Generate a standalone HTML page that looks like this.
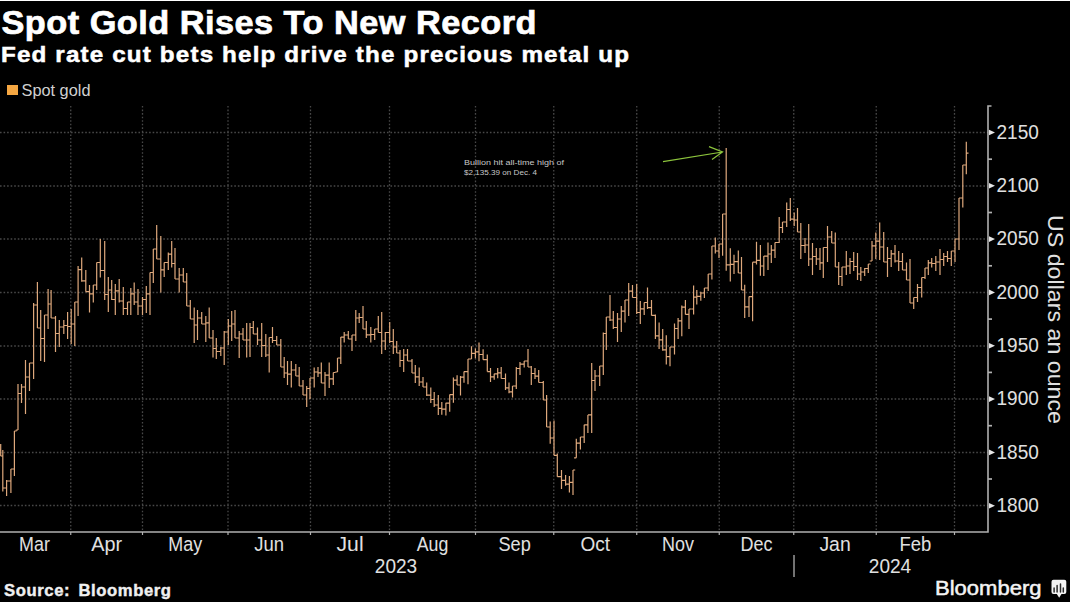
<!DOCTYPE html>
<html><head><meta charset="utf-8"><style>
html,body{margin:0;padding:0;background:#fff;}
svg{display:block;font-family:'Liberation Sans', sans-serif;}
</style></head><body>
<svg width="1080" height="606" viewBox="0 0 1080 606">
<rect x="0" y="1" width="1070" height="601" fill="#000"/>
<line x1="0" y1="505.5" x2="988" y2="505.5" stroke="#484848" stroke-width="1.3" stroke-dasharray="1.6 1.95"/>
<line x1="0" y1="452.5" x2="988" y2="452.5" stroke="#484848" stroke-width="1.3" stroke-dasharray="1.6 1.95"/>
<line x1="0" y1="399.0" x2="988" y2="399.0" stroke="#484848" stroke-width="1.3" stroke-dasharray="1.6 1.95"/>
<line x1="0" y1="346.0" x2="988" y2="346.0" stroke="#484848" stroke-width="1.3" stroke-dasharray="1.6 1.95"/>
<line x1="0" y1="292.5" x2="988" y2="292.5" stroke="#484848" stroke-width="1.3" stroke-dasharray="1.6 1.95"/>
<line x1="0" y1="239.0" x2="988" y2="239.0" stroke="#484848" stroke-width="1.3" stroke-dasharray="1.6 1.95"/>
<line x1="0" y1="186.0" x2="988" y2="186.0" stroke="#484848" stroke-width="1.3" stroke-dasharray="1.6 1.95"/>
<line x1="0" y1="132.5" x2="988" y2="132.5" stroke="#484848" stroke-width="1.3" stroke-dasharray="1.6 1.95"/>
<line x1="70.75" y1="106" x2="70.75" y2="532" stroke="#484848" stroke-width="1.3" stroke-dasharray="1.6 1.95"/>
<line x1="142.5" y1="106" x2="142.5" y2="532" stroke="#484848" stroke-width="1.3" stroke-dasharray="1.6 1.95"/>
<line x1="228" y1="106" x2="228" y2="532" stroke="#484848" stroke-width="1.3" stroke-dasharray="1.6 1.95"/>
<line x1="310.5" y1="106" x2="310.5" y2="532" stroke="#484848" stroke-width="1.3" stroke-dasharray="1.6 1.95"/>
<line x1="389.5" y1="106" x2="389.5" y2="532" stroke="#484848" stroke-width="1.3" stroke-dasharray="1.6 1.95"/>
<line x1="475.5" y1="106" x2="475.5" y2="532" stroke="#484848" stroke-width="1.3" stroke-dasharray="1.6 1.95"/>
<line x1="553.75" y1="106" x2="553.75" y2="532" stroke="#484848" stroke-width="1.3" stroke-dasharray="1.6 1.95"/>
<line x1="636.75" y1="106" x2="636.75" y2="532" stroke="#484848" stroke-width="1.3" stroke-dasharray="1.6 1.95"/>
<line x1="719.25" y1="106" x2="719.25" y2="532" stroke="#484848" stroke-width="1.3" stroke-dasharray="1.6 1.95"/>
<line x1="793.75" y1="106" x2="793.75" y2="532" stroke="#484848" stroke-width="1.3" stroke-dasharray="1.6 1.95"/>
<line x1="876.25" y1="106" x2="876.25" y2="532" stroke="#484848" stroke-width="1.3" stroke-dasharray="1.6 1.95"/>
<line x1="954.5" y1="106" x2="954.5" y2="532" stroke="#484848" stroke-width="1.3" stroke-dasharray="1.6 1.95"/>
<path d="M0.7 444.0V456.0M-1.5 450.0H0.7M0.7 456.0H2.9M2.8 450.0V491.5M0.6 456.0H2.8M2.8 488.0H5.0M6.6 480.0V496.0M4.4 488.0H6.6M6.6 481.0H8.8M10.9 469.0V493.0M8.7 481.0H10.9M10.9 469.0H13.1M14.4 431.0V476.0M12.2 469.0H14.4M14.4 431.0H16.6M18.0 384.0V430.0M15.8 430.0H18.0M18.0 393.5H20.2M21.5 384.0V403.0M19.3 393.5H21.5M21.5 387.0H23.7M25.5 360.0V414.0M23.3 387.0H25.5M25.5 377.0H27.7M29.5 363.0V391.0M27.3 377.0H29.5M29.5 363.0H31.7M33.6 303.0V379.0M31.4 363.0H33.6M33.6 305.0H35.8M37.4 282.0V328.0M35.2 305.0H37.4M37.4 328.0H39.6M40.7 310.0V361.0M38.5 328.0H40.7M40.7 338.5H42.9M44.5 315.0V362.0M42.3 338.5H44.5M44.5 315.0H46.7M48.1 289.0V329.0M45.9 315.0H48.1M48.1 304.0H50.3M51.1 290.0V318.0M48.9 304.0H51.1M51.1 318.0H53.3M55.5 316.0V352.0M53.3 318.0H55.5M55.5 333.5H57.7M59.3 320.0V347.0M57.1 333.5H59.3M59.3 327.0H61.5M63.8 320.0V334.0M61.6 327.0H63.8M63.8 325.5H66.0M67.6 312.0V339.0M65.4 325.5H67.6M67.6 326.5H69.8M71.2 309.0V344.0M69.0 326.5H71.2M71.2 324.0H73.4M74.8 302.0V346.0M72.6 324.0H74.8M74.8 302.0H77.0M78.1 266.0V316.0M75.9 302.0H78.1M78.1 269.6H80.3M81.7 257.5V281.7M79.5 269.6H81.7M81.7 280.9H83.9M85.8 270.0V291.7M83.6 280.9H85.8M85.8 291.7H88.0M89.5 285.0V312.5M87.3 291.7H89.5M89.5 293.8H91.7M93.3 285.0V302.5M91.1 293.8H93.3M93.3 285.0H95.5M96.7 262.5V290.0M94.5 285.0H96.7M96.7 262.5H98.9M100.3 239.0V277.5M98.1 262.5H100.3M100.3 270.5H102.5M104.7 241.0V300.0M102.5 270.5H104.7M104.7 294.5H106.9M108.3 277.0V312.0M106.1 294.5H108.3M108.3 290.0H110.5M111.7 280.0V300.0M109.5 290.0H111.7M111.7 299.5H113.9M115.3 284.0V315.0M113.1 299.5H115.3M115.3 290.8H117.5M119.2 279.0V302.5M117.0 290.8H119.2M119.2 301.0H121.4M123.3 287.0V315.0M121.1 301.0H123.3M123.3 308.5H125.5M127.5 302.0V315.0M125.3 308.5H127.5M127.5 302.0H129.7M130.8 288.0V315.0M128.6 302.0H130.8M130.8 293.8H133.0M134.2 282.5V305.0M132.0 293.8H134.2M134.2 302.0H136.4M138.0 289.0V315.0M135.8 302.0H138.0M138.0 306.0H140.2M142.5 297.0V315.0M140.3 306.0H142.5M142.5 299.5H144.7M146.3 286.0V313.0M144.1 299.5H146.3M146.3 293.8H148.5M150.0 272.5V315.0M147.8 293.8H150.0M150.0 272.5H152.2M153.3 249.0V283.0M151.1 272.5H153.3M153.3 249.0H155.5M156.7 225.0V259.0M154.5 249.0H156.7M156.7 259.0H158.9M160.8 236.0V292.5M158.6 259.0H160.8M160.8 269.8H163.0M164.2 262.5V277.0M162.0 269.8H164.2M164.2 262.5H166.4M168.3 252.5V270.0M166.1 262.5H168.3M168.3 254.2H170.5M171.7 241.0V267.5M169.5 254.2H171.7M171.7 263.5H173.9M175.0 248.0V279.0M172.8 263.5H175.0M175.0 279.0H177.2M179.2 268.0V292.5M177.0 279.0H179.2M179.2 275.0H181.4M183.3 268.0V282.0M181.1 275.0H183.3M183.3 282.0H185.5M186.7 273.0V306.0M184.5 282.0H186.7M186.7 306.0H188.9M190.3 300.0V319.0M188.1 306.0H190.3M190.3 319.0H192.5M194.2 307.5V343.0M192.0 319.0H194.2M194.2 325.0H196.4M197.5 310.0V340.0M195.3 325.0H197.5M197.5 318.0H199.7M201.7 312.0V324.0M199.5 318.0H201.7M201.7 324.0H203.9M205.8 316.0V342.0M203.6 324.0H205.8M205.8 322.8H208.0M209.2 307.5V338.0M207.0 322.8H209.2M209.2 338.0H211.4M213.0 330.0V357.5M210.8 338.0H213.0M213.0 348.5H215.2M216.3 338.0V359.0M214.1 348.5H216.3M216.3 351.5H218.5M220.8 347.0V356.0M218.6 351.5H220.8M220.8 348.0H223.0M224.2 331.0V365.0M222.0 348.0H224.2M224.2 332.0H226.4M228.3 319.0V345.0M226.1 332.0H228.3M228.3 326.0H230.5M231.7 311.0V341.0M229.5 326.0H231.7M231.7 324.0H233.9M235.0 310.0V338.0M232.8 324.0H235.0M235.0 338.0H237.2M239.2 331.0V358.0M237.0 338.0H239.2M239.2 334.0H241.4M243.0 328.0V340.0M240.8 334.0H243.0M243.0 340.0H245.2M246.7 323.0V357.5M244.5 340.0H246.7M246.7 340.0H248.9M250.0 323.0V357.0M247.8 340.0H250.0M250.0 327.5H252.2M253.3 321.0V334.0M251.1 327.5H253.3M253.3 334.0H255.5M257.5 327.5V345.0M255.3 334.0H257.5M257.5 340.0H259.7M261.7 323.0V357.0M259.5 340.0H261.7M261.7 345.5H263.9M265.8 334.0V357.0M263.6 345.5H265.8M265.8 355.0H268.0M269.2 337.5V372.5M267.0 355.0H269.2M269.2 337.5H271.4M272.5 327.0V343.0M270.3 337.5H272.5M272.5 340.5H274.7M276.7 336.0V345.0M274.5 340.5H276.7M276.7 345.0H278.9M280.8 339.0V367.0M278.6 345.0H280.8M280.8 367.0H283.0M284.2 357.0V378.0M282.0 367.0H284.2M284.2 373.0H286.4M287.5 361.0V385.0M285.3 373.0H287.5M287.5 374.2H289.7M291.3 361.0V387.5M289.1 374.2H291.3M291.3 370.0H293.5M295.8 364.0V376.0M293.6 370.0H295.8M295.8 376.0H298.0M299.2 367.0V386.0M297.0 376.0H299.2M299.2 386.0H301.4M303.0 380.0V395.0M300.8 386.0H303.0M303.0 395.0H305.2M306.7 386.0V407.0M304.5 395.0H306.7M306.7 388.5H308.9M310.0 378.0V399.0M307.8 388.5H310.0M310.0 378.0H312.2M314.2 367.5V387.5M312.0 378.0H314.2M314.2 372.0H316.4M318.0 367.0V377.0M315.8 372.0H318.0M318.0 372.8H320.2M321.3 362.5V383.0M319.1 372.8H321.3M321.3 383.0H323.5M325.0 372.0V396.0M322.8 383.0H325.0M325.0 375.2H327.2M329.2 362.5V388.0M327.0 375.2H329.2M329.2 378.8H331.4M333.3 372.5V385.0M331.1 378.8H333.3M333.3 372.5H335.5M337.5 358.0V372.0M335.3 372.0H337.5M337.5 358.0H339.7M340.8 337.0V364.0M338.6 358.0H340.8M340.8 337.2H343.0M344.2 332.0V342.5M342.0 337.2H344.2M344.2 335.0H346.4M348.3 331.0V339.0M346.1 335.0H348.3M348.3 339.0H350.5M352.0 335.0V351.0M349.8 339.0H352.0M352.0 335.0H354.2M355.8 310.0V341.0M353.6 335.0H355.8M355.8 318.0H358.0M359.2 313.0V323.0M357.0 318.0H359.2M359.2 317.5H361.4M363.0 306.0V329.0M360.8 317.5H363.0M363.0 329.0H365.2M366.3 321.0V338.0M364.1 329.0H366.3M366.3 334.8H368.5M370.8 327.0V342.5M368.6 334.8H370.8M370.8 334.5H373.0M374.7 329.0V340.0M372.5 334.5H374.7M374.7 329.0H376.9M378.3 316.0V332.5M376.1 329.0H378.3M378.3 332.5H380.5M381.7 312.0V354.0M379.5 332.5H381.7M381.7 341.0H383.9M385.3 332.0V350.0M383.1 341.0H385.3M385.3 332.5H387.5M389.7 322.0V343.0M387.5 332.5H389.7M389.7 341.5H391.9M393.3 329.0V354.0M391.1 341.5H393.3M393.3 347.0H395.5M396.7 341.0V353.0M394.5 347.0H396.7M396.7 353.0H398.9M400.0 350.0V367.0M397.8 353.0H400.0M400.0 360.5H402.2M403.7 349.0V372.0M401.5 360.5H403.7M403.7 355.0H405.9M407.5 349.0V361.0M405.3 355.0H407.5M407.5 361.0H409.7M412.0 359.0V373.0M409.8 361.0H412.0M412.0 373.0H414.2M415.3 365.0V383.0M413.1 373.0H415.3M415.3 376.8H417.5M419.2 367.5V386.0M417.0 376.8H419.2M419.2 382.0H421.4M423.0 377.0V387.0M420.8 382.0H423.0M423.0 387.0H425.2M426.7 382.5V396.0M424.5 387.0H426.7M426.7 395.2H428.9M430.8 387.5V403.0M428.6 395.2H430.8M430.8 399.5H433.0M434.2 392.0V407.0M432.0 399.5H434.2M434.2 405.0H436.4M438.3 395.0V415.0M436.1 405.0H438.3M438.3 408.4H440.5M441.8 402.0V414.7M439.6 408.4H441.8M441.8 409.1H444.0M445.9 402.8V415.4M443.7 409.1H445.9M445.9 403.1H448.1M449.7 394.6V411.7M447.5 403.1H449.7M449.7 394.6H451.9M453.4 377.5V402.8M451.2 394.6H453.4M453.4 380.1H455.6M457.1 375.3V385.0M454.9 380.1H457.1M457.1 385.0H459.3M460.5 376.0V395.4M458.3 385.0H460.5M460.5 377.1H462.7M464.0 371.6V382.7M461.8 377.1H464.0M464.0 371.6H466.2M468.0 359.0V384.2M465.8 371.6H468.0M468.0 359.0H470.2M471.5 346.3V359.0M469.3 359.0H471.5M471.5 353.4H473.7M475.4 348.6V358.2M473.2 353.4H475.4M475.4 351.9H477.6M479.0 342.6V361.2M476.8 351.9H479.0M479.0 354.5H481.2M483.1 349.3V359.7M480.9 354.5H483.1M483.1 359.7H485.3M487.3 354.5V371.6M485.1 359.7H487.3M487.3 371.6H489.5M490.5 368.0V382.0M488.3 371.6H490.5M490.5 376.8H492.7M494.2 373.8V379.8M492.0 376.8H494.2M494.2 373.8H496.4M497.7 368.0V378.3M495.5 373.8H497.7M497.7 372.8H499.9M501.2 367.0V378.5M499.0 372.8H501.2M501.2 378.5H503.4M505.5 373.5V390.0M503.3 378.5H505.5M505.5 387.9H507.7M509.0 382.5V393.3M506.8 387.9H509.0M509.0 391.8H511.2M512.5 386.0V397.5M510.3 391.8H512.5M512.5 386.0H514.7M516.3 367.0V389.0M514.1 386.0H516.3M516.3 368.5H518.5M520.0 362.0V375.0M517.8 368.5H520.0M520.0 364.2H522.2M524.2 361.0V367.5M522.0 364.2H524.2M524.2 361.0H526.4M528.0 349.0V367.0M525.8 361.0H528.0M528.0 367.0H530.2M531.3 366.0V385.0M529.1 367.0H531.3M531.3 373.5H533.5M535.0 368.0V379.0M532.8 373.5H535.0M535.0 376.2H537.2M538.7 370.0V382.5M536.5 376.2H538.7M538.7 382.5H540.9M543.3 381.0V400.0M541.1 382.5H543.3M543.3 400.0H545.5M546.6 395.0V427.0M544.4 400.0H546.6M546.6 427.0H548.8M550.2 421.5V443.7M548.0 427.0H550.2M550.2 438.0H552.4M554.0 420.6V455.3M551.8 438.0H554.0M554.0 455.3H556.2M557.3 453.6V476.7M555.1 455.3H557.3M557.3 476.7H559.5M561.5 470.0V489.0M559.3 476.7H561.5M561.5 480.4H563.7M565.6 475.0V485.8M563.4 480.4H565.6M565.6 484.2H567.8M569.4 476.0V492.4M567.2 484.2H569.4M569.4 482.4H571.6M573.0 470.0V494.9M570.8 482.4H573.0M573.0 470.0H575.2M576.3 438.8V457.8M574.1 457.8H576.3M576.3 443.2H578.5M580.4 437.0V449.5M578.2 443.2H580.4M580.4 437.0H582.6M584.2 424.8V443.0M582.0 437.0H584.2M584.2 424.8H586.4M587.9 414.9V433.0M585.7 424.8H587.9M587.9 414.9H590.1M591.7 363.0V433.0M589.5 414.9H591.7M591.7 380.5H593.9M595.0 370.0V391.0M592.8 380.5H595.0M595.0 376.0H597.2M599.7 366.0V386.0M597.5 376.0H599.7M599.7 366.0H601.9M603.3 332.5V375.0M601.1 366.0H603.3M603.3 333.5H605.5M606.3 317.0V350.0M604.1 333.5H606.3M606.3 317.0H608.5M610.0 295.0V321.0M607.8 317.0H610.0M610.0 320.0H612.2M613.3 311.0V329.0M611.1 320.0H613.3M613.3 327.5H615.5M617.5 313.0V342.0M615.3 327.5H617.5M617.5 319.0H619.7M621.3 306.0V332.0M619.1 319.0H621.3M621.3 311.2H623.5M625.0 300.0V322.5M622.8 311.2H625.0M625.0 300.0H627.2M628.7 283.0V316.0M626.5 300.0H628.7M628.7 291.2H630.9M632.5 285.0V297.5M630.3 291.2H632.5M632.5 297.5H634.7M636.7 284.0V314.0M634.5 297.5H636.7M636.7 312.5H638.9M640.3 301.0V324.0M638.1 312.5H640.3M640.3 308.8H642.5M644.2 302.5V315.0M642.0 308.8H644.2M644.2 302.5H646.4M647.5 287.5V309.0M645.3 302.5H647.5M647.5 307.7H649.7M651.5 300.0V315.4M649.3 307.7H651.5M651.5 315.4H653.7M655.4 314.4V339.0M653.2 315.4H655.4M655.4 335.8H657.6M659.1 322.6V349.0M656.9 335.8H659.1M659.1 339.9H661.3M662.7 329.0V350.7M660.5 339.9H662.7M662.7 349.9H664.9M666.3 335.3V364.4M664.1 349.9H666.3M666.3 356.6H668.5M670.0 347.0V366.2M667.8 356.6H670.0M670.0 347.0H672.2M674.5 323.5V354.4M672.3 347.0H674.5M674.5 328.5H676.7M678.1 318.0V339.0M675.9 328.5H678.1M678.1 320.8H680.3M681.8 305.4V336.2M679.6 320.8H681.8M681.8 307.2H684.0M685.4 300.0V314.4M683.2 307.2H685.4M685.4 314.4H687.6M689.0 309.0V329.0M686.8 314.4H689.0M689.0 309.0H691.2M693.6 285.4V314.4M691.4 309.0H693.6M693.6 297.2H695.8M696.8 290.0V304.5M694.6 297.2H696.8M696.8 296.3H699.0M700.8 291.8V300.8M698.6 296.3H700.8M700.8 293.0H703.0M704.4 288.0V298.0M702.2 293.0H704.4M704.4 288.0H706.6M708.2 274.0V291.0M706.0 288.0H708.2M708.2 274.0H710.4M711.9 246.0V279.4M709.7 274.0H711.9M711.9 246.0H714.1M715.3 237.6V253.6M713.1 246.0H715.3M715.3 251.0H717.5M719.0 244.0V258.0M716.8 251.0H719.0M719.0 244.0H721.2M722.6 214.0V255.8M720.4 244.0H722.6M722.6 214.0H724.8M726.2 148.0V270.8M724.0 214.0H726.2M726.2 264.9H728.4M730.3 248.3V281.5M728.1 264.9H730.3M730.3 264.4H732.5M734.0 254.7V274.0M731.8 264.4H734.0M734.0 261.7H736.2M738.3 250.4V273.0M736.1 261.7H738.3M738.3 273.0H740.5M741.5 256.9V290.0M739.3 273.0H741.5M741.5 290.0H743.7M744.7 284.8V318.0M742.5 290.0H744.7M744.7 306.8H746.9M749.0 296.6V317.0M746.8 306.8H749.0M749.0 296.6H751.2M752.6 262.2V321.2M750.4 296.6H752.6M752.6 262.2H754.8M756.5 241.8V264.4M754.3 262.2H756.5M756.5 260.4H758.7M760.4 245.0V275.8M758.2 260.4H760.4M760.4 266.0H762.6M763.8 256.0V276.0M761.6 266.0H763.8M763.8 256.2H766.0M768.0 242.5V270.0M765.8 256.2H768.0M768.0 254.0H770.2M771.3 245.0V263.0M769.1 254.0H771.3M771.3 250.2H773.5M775.0 242.5V258.0M772.8 250.2H775.0M775.0 242.5H777.2M779.2 217.0V243.0M777.0 242.5H779.2M779.2 227.5H781.4M782.5 222.0V233.0M780.3 227.5H782.5M782.5 222.0H784.7M786.7 202.5V227.0M784.5 222.0H786.7M786.7 209.5H788.9M790.3 198.0V221.0M788.1 209.5H790.3M790.3 219.2H792.5M794.2 212.5V226.0M792.0 219.2H794.2M794.2 220.0H796.4M797.5 208.0V232.0M795.3 220.0H797.5M797.5 232.0H799.7M800.8 223.0V259.0M798.6 232.0H800.8M800.8 245.5H803.0M805.0 238.0V253.0M802.8 245.5H805.0M805.0 245.0H807.2M808.7 224.0V266.0M806.5 245.0H808.7M808.7 259.0H810.9M812.5 243.0V275.0M810.3 259.0H812.5M812.5 256.5H814.7M816.3 248.0V265.0M814.1 256.5H816.3M816.3 259.0H818.5M820.0 248.0V270.0M817.8 259.0H820.0M820.0 262.8H822.2M823.3 247.5V278.0M821.1 262.8H823.3M823.3 247.5H825.5M827.5 226.0V262.0M825.3 247.5H827.5M827.5 237.0H829.7M831.7 231.0V243.0M829.5 237.0H831.7M831.7 243.0H833.9M835.3 232.5V267.0M833.1 243.0H835.3M835.3 267.0H837.5M838.7 262.0V285.0M836.5 267.0H838.7M838.7 276.5H840.9M842.0 267.0V286.0M839.8 276.5H842.0M842.0 267.0H844.2M846.3 251.0V275.0M844.1 267.0H846.3M846.3 266.0H848.5M850.0 258.0V274.0M847.8 266.0H850.0M850.0 261.5H852.2M853.7 252.0V271.0M851.5 261.5H853.7M853.7 266.5H855.9M857.5 253.0V280.0M855.3 266.5H857.5M857.5 274.0H859.7M860.8 267.0V281.0M858.6 274.0H860.8M860.8 272.0H863.0M864.7 268.0V276.0M862.5 272.0H864.7M864.7 268.5H866.9M868.3 264.0V273.0M866.1 268.5H868.3M868.3 264.0H870.5M872.0 241.0V261.0M869.8 261.0H872.0M872.0 245.8H874.2M875.8 232.5V259.0M873.6 245.8H875.8M875.8 241.2H878.0M879.7 222.5V260.0M877.5 241.2H879.7M879.7 247.0H881.9M883.7 232.0V262.0M881.5 247.0H883.7M883.7 262.0H885.9M887.5 247.0V277.0M885.3 262.0H887.5M887.5 258.5H889.7M891.2 250.0V267.0M889.0 258.5H891.2M891.2 253.8H893.4M895.0 245.0V262.5M892.8 253.8H895.0M895.0 261.0H897.2M898.7 251.0V271.0M896.5 261.0H898.7M898.7 261.5H900.9M902.5 253.0V270.0M900.3 261.5H902.5M902.5 270.0H904.7M906.5 262.5V280.0M904.3 270.0H906.5M906.5 280.0H908.7M910.0 259.0V303.0M907.8 280.0H910.0M910.0 303.0H912.2M913.7 297.5V309.0M911.5 303.0H913.7M913.7 297.5H915.9M917.5 284.0V302.0M915.3 297.5H917.5M917.5 287.5H919.7M921.7 277.5V297.5M919.5 287.5H921.7M921.7 277.5H923.9M925.0 268.0V279.0M922.8 277.5H925.0M925.0 268.0H927.2M928.3 260.0V275.0M926.1 268.0H928.3M928.3 262.8H930.5M931.7 258.0V267.5M929.5 262.8H931.7M931.7 263.5H933.9M935.8 256.0V271.0M933.6 263.5H935.8M935.8 262.0H938.0M940.0 249.0V275.0M937.8 262.0H940.0M940.0 259.5H942.2M943.7 253.0V266.0M941.5 259.5H943.7M943.7 256.5H945.9M947.5 251.0V262.0M945.3 256.5H947.5M947.5 258.5H949.7M951.3 251.0V266.0M949.1 258.5H951.3M951.3 251.0H953.5M955.0 239.0V262.0M952.8 251.0H955.0M955.0 239.0H957.2M959.0 198.0V250.0M956.8 239.0H959.0M959.0 198.0H961.2M962.8 165.0V207.5M960.6 198.0H962.8M962.8 165.0H965.0M966.3 141.7V174.2M964.1 165.0H966.3M966.3 153.1H968.5" stroke="#dea87c" stroke-width="1.2" fill="none"/>
<path d="M0 532H988V106H991.5" stroke="#b0b0b0" stroke-width="1.6" fill="none"/>
<line x1="70.75" y1="532" x2="70.75" y2="535" stroke="#b0b0b0" stroke-width="1.2"/>
<line x1="142.5" y1="532" x2="142.5" y2="535" stroke="#b0b0b0" stroke-width="1.2"/>
<line x1="228" y1="532" x2="228" y2="535" stroke="#b0b0b0" stroke-width="1.2"/>
<line x1="310.5" y1="532" x2="310.5" y2="535" stroke="#b0b0b0" stroke-width="1.2"/>
<line x1="389.5" y1="532" x2="389.5" y2="535" stroke="#b0b0b0" stroke-width="1.2"/>
<line x1="475.5" y1="532" x2="475.5" y2="535" stroke="#b0b0b0" stroke-width="1.2"/>
<line x1="553.75" y1="532" x2="553.75" y2="535" stroke="#b0b0b0" stroke-width="1.2"/>
<line x1="636.75" y1="532" x2="636.75" y2="535" stroke="#b0b0b0" stroke-width="1.2"/>
<line x1="719.25" y1="532" x2="719.25" y2="535" stroke="#b0b0b0" stroke-width="1.2"/>
<line x1="793.75" y1="532" x2="793.75" y2="535" stroke="#b0b0b0" stroke-width="1.2"/>
<line x1="876.25" y1="532" x2="876.25" y2="535" stroke="#b0b0b0" stroke-width="1.2"/>
<line x1="954.5" y1="532" x2="954.5" y2="535" stroke="#b0b0b0" stroke-width="1.2"/>
<line x1="988" y1="479.0" x2="992" y2="479.0" stroke="#b0b0b0" stroke-width="1.7"/>
<line x1="988" y1="425.7" x2="992" y2="425.7" stroke="#b0b0b0" stroke-width="1.7"/>
<line x1="988" y1="372.4" x2="992" y2="372.4" stroke="#b0b0b0" stroke-width="1.7"/>
<line x1="988" y1="319.1" x2="992" y2="319.1" stroke="#b0b0b0" stroke-width="1.7"/>
<line x1="988" y1="265.8" x2="992" y2="265.8" stroke="#b0b0b0" stroke-width="1.7"/>
<line x1="988" y1="212.5" x2="992" y2="212.5" stroke="#b0b0b0" stroke-width="1.7"/>
<line x1="988" y1="159.2" x2="992" y2="159.2" stroke="#b0b0b0" stroke-width="1.7"/>
<path d="M989 502.9L995 505.7L989 508.5Z" fill="#e6e6e6"/>
<text x="996.5" y="511.9" font-size="20.3" fill="#e0e0e0" textLength="42.3" lengthAdjust="spacingAndGlyphs">1800</text>
<path d="M989 449.6L995 452.4L989 455.2Z" fill="#e6e6e6"/>
<text x="996.5" y="458.6" font-size="20.3" fill="#e0e0e0" textLength="42.3" lengthAdjust="spacingAndGlyphs">1850</text>
<path d="M989 396.3L995 399.1L989 401.9Z" fill="#e6e6e6"/>
<text x="996.5" y="405.3" font-size="20.3" fill="#e0e0e0" textLength="42.3" lengthAdjust="spacingAndGlyphs">1900</text>
<path d="M989 343.0L995 345.8L989 348.6Z" fill="#e6e6e6"/>
<text x="996.5" y="352.0" font-size="20.3" fill="#e0e0e0" textLength="42.3" lengthAdjust="spacingAndGlyphs">1950</text>
<path d="M989 289.6L995 292.4L989 295.2Z" fill="#e6e6e6"/>
<text x="996.5" y="298.6" font-size="20.3" fill="#e0e0e0" textLength="42.3" lengthAdjust="spacingAndGlyphs">2000</text>
<path d="M989 236.3L995 239.1L989 241.9Z" fill="#e6e6e6"/>
<text x="996.5" y="245.3" font-size="20.3" fill="#e0e0e0" textLength="42.3" lengthAdjust="spacingAndGlyphs">2050</text>
<path d="M989 183.0L995 185.8L989 188.6Z" fill="#e6e6e6"/>
<text x="996.5" y="192.0" font-size="20.3" fill="#e0e0e0" textLength="42.3" lengthAdjust="spacingAndGlyphs">2100</text>
<path d="M989 129.7L995 132.5L989 135.3Z" fill="#e6e6e6"/>
<text x="996.5" y="138.7" font-size="20.3" fill="#e0e0e0" textLength="42.3" lengthAdjust="spacingAndGlyphs">2150</text>
<text x="19.1" y="551" font-size="19.3" fill="#e0e0e0" textLength="30.8" lengthAdjust="spacingAndGlyphs">Mar</text>
<text x="91.2" y="551" font-size="19.3" fill="#e0e0e0" textLength="30.8" lengthAdjust="spacingAndGlyphs">Apr</text>
<text x="168.3" y="551" font-size="19.3" fill="#e0e0e0" textLength="33.8" lengthAdjust="spacingAndGlyphs">May</text>
<text x="254.3" y="551" font-size="19.3" fill="#e0e0e0" textLength="29.8" lengthAdjust="spacingAndGlyphs">Jun</text>
<text x="336.5" y="551" font-size="19.3" fill="#e0e0e0" textLength="27.1" lengthAdjust="spacingAndGlyphs">Jul</text>
<text x="416.7" y="551" font-size="19.3" fill="#e0e0e0" textLength="31.6" lengthAdjust="spacingAndGlyphs">Aug</text>
<text x="498.5" y="551" font-size="19.3" fill="#e0e0e0" textLength="32.3" lengthAdjust="spacingAndGlyphs">Sep</text>
<text x="580.5" y="551" font-size="19.3" fill="#e0e0e0" textLength="29.6" lengthAdjust="spacingAndGlyphs">Oct</text>
<text x="662.0" y="551" font-size="19.3" fill="#e0e0e0" textLength="32.0" lengthAdjust="spacingAndGlyphs">Nov</text>
<text x="740.5" y="551" font-size="19.3" fill="#e0e0e0" textLength="32.0" lengthAdjust="spacingAndGlyphs">Dec</text>
<text x="819.4" y="551" font-size="19.3" fill="#e0e0e0" textLength="31.3" lengthAdjust="spacingAndGlyphs">Jan</text>
<text x="899.5" y="551" font-size="19.3" fill="#e0e0e0" textLength="31.8" lengthAdjust="spacingAndGlyphs">Feb</text>
<text x="374.8" y="572.8" font-size="19.5" fill="#e0e0e0" textLength="42.4" lengthAdjust="spacingAndGlyphs">2023</text>
<text x="868.8" y="572.8" font-size="19.5" fill="#e0e0e0" textLength="42.4" lengthAdjust="spacingAndGlyphs">2024</text>
<line x1="794" y1="555" x2="794" y2="577" stroke="#b0b0b0" stroke-width="1.3"/>
<text transform="translate(1047.8,215) rotate(90)" x="0" y="0" font-size="22.5" fill="#e0e0e0" textLength="209" lengthAdjust="spacingAndGlyphs" dominant-baseline="auto">US dollars an ounce</text>
<text transform="translate(1.5,34) scale(1.04,1)" font-size="33" font-weight="bold" fill="#fff" stroke="#fff" stroke-width="0.7" textLength="514.4" lengthAdjust="spacing">Spot Gold Rises To New Record</text>
<text transform="translate(1,62) scale(1.1,1)" font-size="22" font-weight="bold" fill="#fff" stroke="#fff" stroke-width="0.5" textLength="570.9" lengthAdjust="spacing">Fed rate cut bets help drive the precious metal up</text>
<rect x="7" y="85" width="11" height="10" fill="#f5a742"/>
<text x="21.5" y="96.2" font-size="16.5" fill="#d0d0d0" textLength="69" lengthAdjust="spacingAndGlyphs">Spot gold</text>
<text x="464" y="164.7" font-size="7" fill="#c8c8c8" textLength="100" lengthAdjust="spacingAndGlyphs">Bullion hit all-time high of</text>
<text x="464" y="174.7" font-size="7" fill="#c8c8c8" textLength="73" lengthAdjust="spacingAndGlyphs">$2,135.39 on Dec. 4</text>
<path d="M663 161.7L722.5 152M709 146.7L722.5 152L712 159.6" stroke="#8cc43c" stroke-width="1.25" fill="none"/>
<text transform="translate(4,596) scale(1.04,1)" font-size="16" font-weight="bold" fill="#f0f0f0" stroke="#f0f0f0" stroke-width="0.4" word-spacing="3" textLength="160.6" lengthAdjust="spacing">Source: Bloomberg</text>
<text x="935" y="595.4" font-size="21" fill="#f4f4f4" stroke="#f4f4f4" stroke-width="0.5" textLength="106.5" lengthAdjust="spacingAndGlyphs">Bloomberg</text>
<rect x="1051.5" y="579.8" width="14.8" height="14.1" rx="2" fill="#f4f4f4"/>
<path d="M1056.5 593.5L1059.2 597.8L1061.8 593.5Z" fill="#f4f4f4"/>
<path d="M1054.1 588V592M1057.1 585.5V592M1060.5 584V592M1063.3 588V592" stroke="#2a2a2a" stroke-width="1.5" stroke-linecap="round"/>
</svg></body></html>
